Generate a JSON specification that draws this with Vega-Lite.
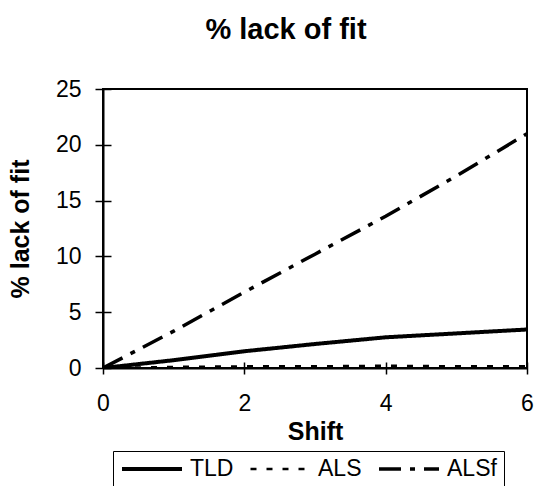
{
  "$schema": "https://vega.github.io/schema/vega-lite/v6.json",
  "width": 424,
  "height": 279,
  "autosize": {"type": "none"},
  "padding": {"left": 103, "top": 89, "right": 9, "bottom": 118},
  "background": "white",
  "title": {
    "text": "% lack of fit",
    "font": "Liberation Sans",
    "fontSize": 29,
    "fontWeight": "bold",
    "color": "black",
    "anchor": "middle",
    "dx": -29,
    "offset": 33
  },
  "config": {
    "view": {"stroke": "black", "strokeWidth": 2},
    "font": "Liberation Sans"
  },
  "data": {
    "values": [
      {"shift": 0, "series": "TLD", "value": 0},
      {"shift": 0.5, "series": "TLD", "value": 0.35},
      {"shift": 1, "series": "TLD", "value": 0.7},
      {"shift": 2, "series": "TLD", "value": 1.5},
      {"shift": 3, "series": "TLD", "value": 2.15},
      {"shift": 4, "series": "TLD", "value": 2.75},
      {"shift": 5, "series": "TLD", "value": 3.1},
      {"shift": 6, "series": "TLD", "value": 3.45},
      {"shift": 0, "series": "ALS", "value": 0},
      {"shift": 1, "series": "ALS", "value": 0.1},
      {"shift": 2, "series": "ALS", "value": 0.15},
      {"shift": 3, "series": "ALS", "value": 0.15},
      {"shift": 4, "series": "ALS", "value": 0.2},
      {"shift": 5, "series": "ALS", "value": 0.15},
      {"shift": 6, "series": "ALS", "value": 0.15},
      {"shift": 0, "series": "ALSf", "value": 0},
      {"shift": 1, "series": "ALSf", "value": 3.3},
      {"shift": 2, "series": "ALSf", "value": 6.8},
      {"shift": 3, "series": "ALSf", "value": 10.2},
      {"shift": 4, "series": "ALSf", "value": 13.6},
      {"shift": 5, "series": "ALSf", "value": 17.2},
      {"shift": 6, "series": "ALSf", "value": 21}
    ]
  },
  "layer": [
    {
      "mark": {"type": "line", "color": "black", "clip": true},
      "encoding": {
        "x": {
          "field": "shift",
          "type": "quantitative",
          "scale": {"domain": [0, 6], "nice": false},
          "axis": {
            "title": "Shift",
            "values": [0, 2, 4, 6],
            "grid": false,
            "domainColor": "black",
            "domainWidth": 2,
            "ticks": false,
            "labelFont": "Liberation Sans",
            "labelFontSize": 23,
            "labelColor": "black",
            "labelPadding": 24,
            "labelFlush": false,
            "titleFont": "Liberation Sans",
            "titleFontSize": 25,
            "titleFontWeight": "bold",
            "titleColor": "black",
            "titlePadding": 4
          }
        },
        "y": {
          "field": "value",
          "type": "quantitative",
          "scale": {"domain": [0, 25], "nice": false},
          "axis": {
            "title": "% lack of fit",
            "values": [0, 5, 10, 15, 20, 25],
            "grid": false,
            "domainColor": "black",
            "domainWidth": 2,
            "ticks": false,
            "labelFont": "Liberation Sans",
            "labelFontSize": 23,
            "labelColor": "black",
            "labelPadding": 22,
            "labelFlush": false,
            "titleFont": "Liberation Sans",
            "titleFontSize": 25,
            "titleFontWeight": "bold",
            "titleColor": "black",
            "titlePadding": 22
          }
        },
        "detail": {"field": "series"},
        "strokeDash": {
          "field": "series",
          "type": "nominal",
          "scale": {"domain": ["TLD", "ALS", "ALSf"], "range": [[1, 0], [6, 10], [22, 9, 5, 9]]},
          "legend": {
            "title": null,
            "orient": "none",
            "legendX": 10,
            "legendY": 362,
            "direction": "horizontal",
            "strokeColor": "black",
            "padding": 7,
            "clipHeight": 22,
            "symbolType": "stroke",
            "symbolSize": 3600,
            "symbolStrokeColor": "black",
            "symbolStrokeWidth": 3.5,
            "labelFont": "Liberation Sans",
            "labelFontSize": 23,
            "labelColor": "black",
            "labelOffset": 6,
            "columnPadding": 15
          }
        },
        "strokeWidth": {
          "field": "series",
          "type": "ordinal",
          "scale": {"type": "ordinal", "domain": ["TLD", "ALS", "ALSf"], "range": [4, 2.5, 3.5]},
          "legend": null
        }
      }
    },
    {
      "mark": {"type": "line", "strokeOpacity": 0},
      "encoding": {
        "x": {
          "field": "shift",
          "type": "quantitative",
          "axis": {
            "orient": "bottom",
            "offset": -6,
            "values": [0, 2, 4, 6],
            "grid": false,
            "domain": false,
            "labels": false,
            "title": null,
            "tickColor": "black",
            "tickWidth": 1.5,
            "tickSize": 12
          }
        },
        "y": {
          "field": "value",
          "type": "quantitative",
          "axis": {
            "orient": "left",
            "offset": -8,
            "values": [0, 5, 10, 15, 20, 25],
            "grid": false,
            "domain": false,
            "labels": false,
            "title": null,
            "tickColor": "black",
            "tickWidth": 1.5,
            "tickSize": 16
          }
        },
        "detail": {"field": "series"}
      }
    }
  ],
  "resolve": {"axis": {"x": "independent", "y": "independent"}}
}
